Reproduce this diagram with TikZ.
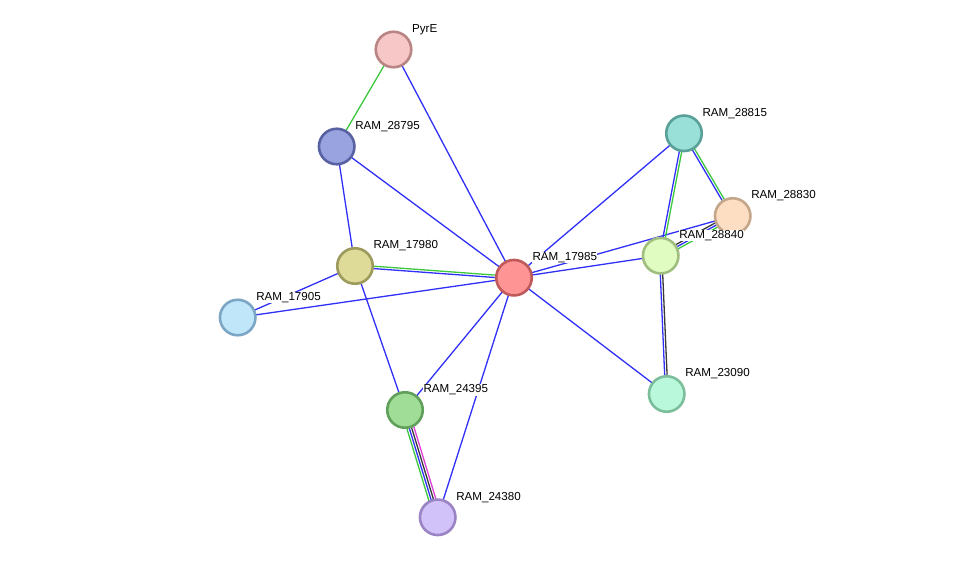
\documentclass[tikz,border=0pt]{standalone}
\usepackage{fontspec}
\setmainfont{Liberation Sans}
\usetikzlibrary{calc}
\pgfdeclarelayer{bg}\pgfsetlayers{bg,main}
\definecolor{eblue}{HTML}{3030F8}
\definecolor{egreen}{HTML}{3CC83C}
\definecolor{eblack}{HTML}{383838}
\definecolor{emag}{HTML}{E040D8}
\definecolor{fA}{HTML}{F7C6C6}\definecolor{dA}{HTML}{B88484}
\definecolor{fB}{HTML}{99A3E0}\definecolor{dB}{HTML}{5862A2}
\definecolor{fC}{HTML}{DEDA98}\definecolor{dC}{HTML}{9C9A5C}
\definecolor{fD}{HTML}{C0E6FA}\definecolor{dD}{HTML}{7CA6C4}
\definecolor{fE}{HTML}{FF9494}\definecolor{dE}{HTML}{C05A5A}
\definecolor{fF}{HTML}{A0DE98}\definecolor{dF}{HTML}{60A05A}
\definecolor{fG}{HTML}{D2C2FA}\definecolor{dG}{HTML}{9A84C4}
\definecolor{fH}{HTML}{98E0D8}\definecolor{dH}{HTML}{58A098}
\definecolor{fI}{HTML}{FEDEC2}\definecolor{dI}{HTML}{C4A68A}
\definecolor{fJ}{HTML}{E0FCC0}\definecolor{dJ}{HTML}{A0BE80}
\definecolor{fK}{HTML}{BAF8DC}\definecolor{dK}{HTML}{7CBE9C}
\tikzset{
  prot/.style 2 args={circle,minimum size=35.5pt,inner sep=0pt,line width=2.6pt,fill=#1,draw=#2},
  lbl/.style={anchor=west,inner sep=0.4pt,fill=white,font=\fontsize{11.6}{12}\selectfont,text=black},
  edgeline/.style={line width=1.3pt}
}
\newcommand\medge[4]{\draw[edgeline,#4] ($(#1.center)!#3!90:(#2.center)$) -- ($(#2.center)!#3!-90:(#1.center)$);}
\newcommand\sedge[2]{\draw[edgeline,eblue] (#1.center) -- (#2.center);}
\begin{document}
\begin{tikzpicture}[x=1pt,y=-1pt]
\begin{pgfonlayer}{bg}
\fill[white] (0,0) rectangle (975,563);
\end{pgfonlayer}
\useasboundingbox (0,0) rectangle (975,563);
\node[prot={fA}{dA}] (pyre) at (393.5,49.5) {};
\node[prot={fB}{dB}] (n28795) at (336.7,146.5) {};
\node[prot={fC}{dC}] (n17980) at (355,266) {};
\node[prot={fD}{dD}] (n17905) at (237.7,317.5) {};
\node[prot={fE}{dE}] (n17985) at (514,277.7) {};
\node[prot={fF}{dF}] (n24395) at (405,410) {};
\node[prot={fG}{dG}] (n24380) at (437.7,517.3) {};
\node[prot={fH}{dH}] (n28815) at (684,133.3) {};
\node[prot={fI}{dI}] (n28830) at (732.7,216) {};
\node[prot={fJ}{dJ}] (n28840) at (660.7,255.7) {};
\node[prot={fK}{dK}] (n23090) at (666.7,394) {};
\begin{pgfonlayer}{bg}
\sedge{pyre}{n17985}
\sedge{n28795}{n17985}
\sedge{n28795}{n17980}
\sedge{n17980}{n17905}
\sedge{n17905}{n17985}
\sedge{n17980}{n24395}
\sedge{n24395}{n17985}
\sedge{n24380}{n17985}
\sedge{n23090}{n17985}
\sedge{n28840}{n17985}
\sedge{n28830}{n17985}
\sedge{n28815}{n17985}
\draw[edgeline,egreen] (pyre.center) -- (n28795.center);
\medge{n17980}{n17985}{1.2pt}{egreen}
\medge{n17980}{n17985}{-1.2pt}{eblue}
\medge{n28815}{n28840}{-1.2pt}{eblue}
\medge{n28815}{n28840}{1.2pt}{egreen}
\medge{n28815}{n28830}{-1.2pt}{eblue}
\medge{n28815}{n28830}{1.2pt}{egreen}
\medge{n28840}{n23090}{-1.2pt}{eblue}
\medge{n28840}{n23090}{1.2pt}{eblack}
\medge{n28840}{n28830}{2.4pt}{eblack}
\medge{n28840}{n28830}{0pt}{eblue}
\medge{n28840}{n28830}{-2.4pt}{egreen}
\medge{n24395}{n24380}{-3.6pt}{egreen}
\medge{n24395}{n24380}{-1.2pt}{eblue}
\medge{n24395}{n24380}{1.2pt}{eblack}
\medge{n24395}{n24380}{3.6pt}{emag}
\end{pgfonlayer}
\node[lbl] (lpyre) at ($(pyre)+(18,-20)$) {PyrE};
\node[lbl] (l28795) at ($(n28795)+(18,-20)$) {RAM\_28795};
\node[lbl] (l17980) at ($(n17980)+(18,-20)$) {RAM\_17980};
\node[lbl] (l17905) at ($(n17905)+(18,-20)$) {RAM\_17905};
\node[lbl] (l17985) at ($(n17985)+(18,-20)$) {RAM\_17985};
\node[lbl] (l24395) at ($(n24395)+(18,-20)$) {RAM\_24395};
\node[lbl] (l24380) at ($(n24380)+(18,-20)$) {RAM\_24380};
\node[lbl] (l28815) at ($(n28815)+(18,-20)$) {RAM\_28815};
\node[lbl] (l28830) at ($(n28830)+(18,-20)$) {RAM\_28830};
\node[lbl] (l28840) at ($(n28840)+(18,-20)$) {RAM\_28840};
\node[lbl] (l23090) at ($(n23090)+(18,-20)$) {RAM\_23090};
\end{tikzpicture}
\end{document}
